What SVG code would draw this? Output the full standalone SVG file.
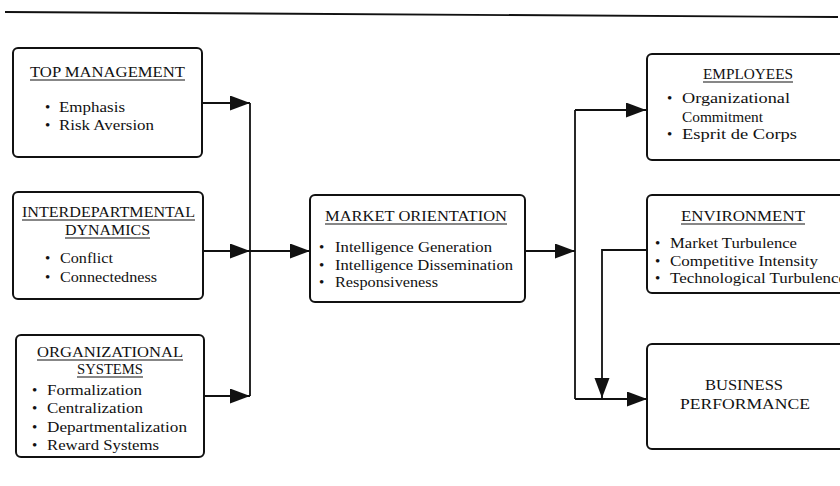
<svg xmlns="http://www.w3.org/2000/svg" width="840" height="486" viewBox="0 0 840 486">
  <style>
    .box { fill: #fff; stroke: #111; stroke-width: 2; }
    .title { font-family: "Liberation Serif", "Times New Roman", serif; font-size: 14.5px; fill: #111; }
    .body { font-family: "Liberation Serif", "Times New Roman", serif; font-size: 15px; fill: #111; }
    .ul { stroke: #111; stroke-width: 1.2; }
    .wire { fill: none; stroke: #111; stroke-width: 1.8; }
  </style>
  <defs>
    <marker id="head" markerUnits="userSpaceOnUse" markerWidth="21" markerHeight="16" refX="20" refY="7.5" orient="auto">
      <path d="M0,0 L20,7.5 L0,15 Z" fill="#111"/>
    </marker>
  </defs>
  <rect width="840" height="486" fill="#fff"/>

  <!-- header rule -->
  <line x1="5" y1="12" x2="838" y2="17" stroke="#111" stroke-width="1.8"/>

  <!-- connectors -->
  <g id="connectors">
    <path class="wire" d="M202,103 H250" marker-end="url(#head)"/>
    <path class="wire" d="M203,251 H250" marker-end="url(#head)"/>
    <path class="wire" d="M204,396 H250" marker-end="url(#head)"/>
    <path class="wire" d="M250,103 V396"/>
    <path class="wire" d="M250,251 H310" marker-end="url(#head)"/>
    <path class="wire" d="M525,251 H575" marker-end="url(#head)"/>
    <path class="wire" d="M575,110 V399"/>
    <path class="wire" d="M575,110 H646" marker-end="url(#head)"/>
    <path class="wire" d="M575,399 H647" marker-end="url(#head)"/>
    <path class="wire" d="M647,250 H602 V398" marker-end="url(#head)"/>
  </g>

  <g id="top-management">
    <rect class="box" x="13" y="48" width="189" height="109" rx="5"/>
    <text class="title" x="30" y="77" textLength="155" lengthAdjust="spacingAndGlyphs">TOP MANAGEMENT</text>
    <line class="ul" x1="30" y1="80" x2="185" y2="80"/>
    <text class="body" x="45" y="112">•</text>
    <text class="body" x="59" y="112" textLength="66" lengthAdjust="spacingAndGlyphs">Emphasis</text>
    <text class="body" x="45" y="130">•</text>
    <text class="body" x="59" y="130" textLength="95" lengthAdjust="spacingAndGlyphs">Risk Aversion</text>
  </g>

  <g id="interdepartmental-dynamics">
    <rect class="box" x="13" y="192" width="190" height="107" rx="5"/>
    <text class="title" x="22" y="217" textLength="173" lengthAdjust="spacingAndGlyphs">INTERDEPARTMENTAL</text>
    <line class="ul" x1="22" y1="220" x2="195" y2="220"/>
    <text class="title" x="65" y="235" textLength="85" lengthAdjust="spacingAndGlyphs">DYNAMICS</text>
    <line class="ul" x1="65" y1="238" x2="150" y2="238"/>
    <text class="body" x="45" y="263">•</text>
    <text class="body" x="60" y="263" textLength="53" lengthAdjust="spacingAndGlyphs">Conflict</text>
    <text class="body" x="45" y="282">•</text>
    <text class="body" x="60" y="282" textLength="97" lengthAdjust="spacingAndGlyphs">Connectedness</text>
  </g>

  <g id="organizational-systems">
    <rect class="box" x="16" y="335" width="188" height="122" rx="5"/>
    <text class="title" x="37" y="357" textLength="146" lengthAdjust="spacingAndGlyphs">ORGANIZATIONAL</text>
    <line class="ul" x1="37" y1="360" x2="183" y2="360"/>
    <text class="title" x="77" y="374" textLength="66" lengthAdjust="spacingAndGlyphs">SYSTEMS</text>
    <line class="ul" x1="77" y1="377" x2="143" y2="377"/>
    <text class="body" x="32" y="395">•</text>
    <text class="body" x="47" y="395" textLength="95" lengthAdjust="spacingAndGlyphs">Formalization</text>
    <text class="body" x="32" y="413">•</text>
    <text class="body" x="47" y="413" textLength="96" lengthAdjust="spacingAndGlyphs">Centralization</text>
    <text class="body" x="32" y="432">•</text>
    <text class="body" x="47" y="432" textLength="140" lengthAdjust="spacingAndGlyphs">Departmentalization</text>
    <text class="body" x="32" y="450">•</text>
    <text class="body" x="47" y="450" textLength="112" lengthAdjust="spacingAndGlyphs">Reward Systems</text>
  </g>

  <g id="market-orientation">
    <rect class="box" x="310" y="195" width="215" height="107" rx="5"/>
    <text class="title" x="325" y="221" textLength="182" lengthAdjust="spacingAndGlyphs">MARKET ORIENTATION</text>
    <line class="ul" x1="325" y1="224" x2="507" y2="224"/>
    <text class="body" x="319" y="252">•</text>
    <text class="body" x="335" y="252" textLength="157" lengthAdjust="spacingAndGlyphs">Intelligence Generation</text>
    <text class="body" x="319" y="270">•</text>
    <text class="body" x="335" y="270" textLength="178" lengthAdjust="spacingAndGlyphs">Intelligence Dissemination</text>
    <text class="body" x="319" y="287">•</text>
    <text class="body" x="335" y="287" textLength="103" lengthAdjust="spacingAndGlyphs">Responsiveness</text>
  </g>

  <g id="employees">
    <rect class="box" x="647" y="54" width="215" height="106" rx="5"/>
    <text class="title" x="703" y="79" textLength="90" lengthAdjust="spacingAndGlyphs">EMPLOYEES</text>
    <line class="ul" x1="703" y1="82" x2="793" y2="82"/>
    <text class="body" x="667" y="103">•</text>
    <text class="body" x="682" y="103" textLength="108" lengthAdjust="spacingAndGlyphs">Organizational</text>
    <text class="body" x="682" y="122" textLength="81" lengthAdjust="spacingAndGlyphs">Commitment</text>
    <text class="body" x="667" y="139">•</text>
    <text class="body" x="682" y="139" textLength="115" lengthAdjust="spacingAndGlyphs">Esprit de Corps</text>
  </g>

  <g id="environment">
    <rect class="box" x="647" y="195" width="215" height="98" rx="5"/>
    <text class="title" x="681" y="221" textLength="124" lengthAdjust="spacingAndGlyphs">ENVIRONMENT</text>
    <line class="ul" x1="681" y1="224" x2="805" y2="224"/>
    <text class="body" x="655" y="248">•</text>
    <text class="body" x="670" y="248" textLength="127" lengthAdjust="spacingAndGlyphs">Market Turbulence</text>
    <text class="body" x="655" y="266">•</text>
    <text class="body" x="670" y="266" textLength="148" lengthAdjust="spacingAndGlyphs">Competitive Intensity</text>
    <text class="body" x="655" y="283">•</text>
    <text class="body" x="670" y="283" textLength="176" lengthAdjust="spacingAndGlyphs">Technological Turbulence</text>
  </g>

  <g id="business-performance">
    <rect class="box" x="647" y="344" width="215" height="105" rx="5"/>
    <text class="title" x="705" y="390" textLength="78" lengthAdjust="spacingAndGlyphs">BUSINESS</text>
    <text class="title" x="680" y="409" textLength="130" lengthAdjust="spacingAndGlyphs">PERFORMANCE</text>
  </g>
</svg>
